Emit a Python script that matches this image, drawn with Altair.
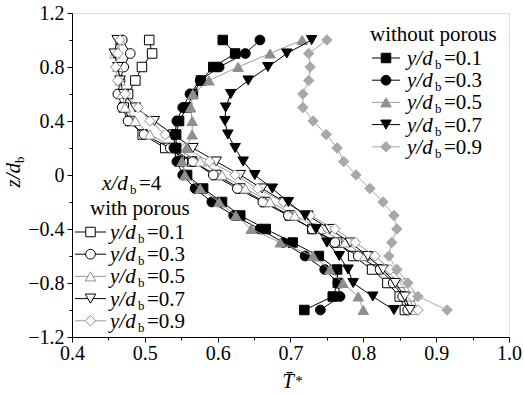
import altair as alt
import pandas as pd

# ---------------- data ----------------
Z = [1.0, 0.9, 0.8, 0.7, 0.6, 0.5, 0.4, 0.3, 0.2, 0.1, 0.0,
     -0.1, -0.2, -0.3, -0.4, -0.5, -0.6, -0.7, -0.8, -0.9, -1.0]

# without porous
NP_01 = [0.607, 0.624, 0.594, 0.577, 0.566, 0.558, 0.547, 0.543, 0.543, 0.548, 0.558,
         0.580, 0.606, 0.631, 0.666, 0.703, 0.739, 0.764, 0.765, 0.758, 0.719]
NP_03 = [0.658, 0.638, 0.602, 0.576, 0.562, 0.552, 0.544, 0.541, 0.540, 0.544, 0.552,
         0.569, 0.592, 0.622, 0.658, 0.690, 0.720, 0.747, 0.765, 0.768, 0.741]
NP_05 = [0.716, 0.672, 0.628, 0.588, 0.566, 0.563, 0.565, 0.565, 0.557, 0.551, 0.555,
         0.576, 0.602, 0.625, 0.646, 0.686, 0.731, 0.754, 0.772, 0.793, 0.800]
NP_07 = [0.729, 0.695, 0.669, 0.642, 0.618, 0.611, 0.610, 0.614, 0.624, 0.635, 0.651,
         0.675, 0.697, 0.720, 0.735, 0.750, 0.767, 0.779, 0.786, 0.813, 0.842]
NP_09 = [0.750, 0.725, 0.727, 0.725, 0.717, 0.717, 0.731, 0.749, 0.764, 0.773, 0.790,
         0.809, 0.827, 0.842, 0.846, 0.839, 0.835, 0.846, 0.861, 0.875, 0.915]

# with porous
P_01 = [0.506, 0.510, 0.496, 0.487, 0.477, 0.471, 0.480, 0.497, 0.528, 0.565, 0.598,
        0.631, 0.665, 0.699, 0.730, 0.764, 0.786, 0.812, 0.833, 0.850, 0.857]
P_03 = [0.469, 0.480, 0.471, 0.466, 0.463, 0.469, 0.477, 0.499, 0.535, 0.566, 0.594,
        0.627, 0.662, 0.697, 0.730, 0.761, 0.793, 0.823, 0.841, 0.854, 0.861]
P_05 = [0.466, 0.459, 0.463, 0.466, 0.469, 0.473, 0.487, 0.507, 0.541, 0.576, 0.606,
        0.638, 0.672, 0.706, 0.741, 0.775, 0.802, 0.830, 0.850, 0.864, 0.868]
P_07 = [0.462, 0.458, 0.463, 0.466, 0.471, 0.487, 0.513, 0.539, 0.566, 0.598, 0.631,
        0.661, 0.692, 0.724, 0.754, 0.782, 0.806, 0.827, 0.844, 0.857, 0.864]
P_09 = [0.466, 0.463, 0.460, 0.463, 0.473, 0.491, 0.507, 0.528, 0.555, 0.589, 0.624,
        0.655, 0.690, 0.727, 0.761, 0.789, 0.816, 0.837, 0.857, 0.867, 0.875]

LABELS = ["0.1", "0.3", "0.5", "0.7", "0.9"]

# ---------------- styles ----------------
FONT = "Liberation Serif"
W, H = 437, 324
PAD_L, PAD_T = 72, 13

BLACK = "#000000"
GRAY = "#8f8f8f"
LGRAY = "#a8a8a8"

# (shape, size, fill, stroke, line colour)
NP_STYLE = [
    ("square", 90, BLACK, BLACK, BLACK),
    ("circle", 95, BLACK, BLACK, BLACK),
    ("triangle-up", 110, GRAY, GRAY, "#9a9a9a"),
    ("triangle-down", 110, BLACK, BLACK, BLACK),
    ("diamond", 110, LGRAY, LGRAY, LGRAY),
]
P_STYLE = [
    ("square", 90, "white", BLACK, BLACK),
    ("circle", 95, "white", BLACK, BLACK),
    ("triangle-up", 110, "white", GRAY, "#9a9a9a"),
    ("triangle-down", 110, "white", BLACK, BLACK),
    ("diamond", 110, "white", GRAY, "#9a9a9a"),
]

xscale = alt.Scale(domain=[0.4, 1.0], nice=False, zero=False)
yscale = alt.Scale(domain=[-1.2, 1.2], nice=False, zero=False)

x_ticks = [round(0.4 + 0.05 * i, 2) for i in range(13)]
y_ticks = [round(-1.2 + 0.2 * i, 2) for i in range(13)]

x_major = "abs(datum.value*10 - round(datum.value*10)) < 0.01"
y_major = "abs(datum.value/0.4 - round(datum.value/0.4)) < 0.01"

x_axis = alt.Axis(
    values=x_ticks, title=None, grid=False,
    labelExpr=f"{x_major} ? format(datum.value, '.1f') : ''",
    tickSize={"condition": {"test": x_major, "value": 5}, "value": 3},
    labelFont=FONT, labelFontSize=20, labelColor="black",
    labelPadding=1, labelFlush=False, labelOverlap=False,
)
y_axis = alt.Axis(
    values=y_ticks, title=None, grid=False,
    labelExpr=f"{y_major} ? replace(datum.value == 0 ? '0' : format(datum.value, '.1f'), '-', '\u2212') : ''",
    tickSize={"condition": {"test": y_major, "value": 5}, "value": 3},
    labelFont=FONT, labelFontSize=20, labelColor="black",
    labelPadding=3, labelFlush=False, labelOverlap=False,
)

layers = []


def series_layers(vals, style):
    shape, size, fill, stroke, lcol = style
    df = pd.DataFrame({"T": vals, "z": Z, "i": list(range(len(Z)))})
    base = alt.Chart(df).encode(
        x=alt.X("T:Q", scale=xscale, axis=x_axis),
        y=alt.Y("z:Q", scale=yscale, axis=y_axis),
    )
    line = base.mark_line(color=lcol, strokeWidth=1).encode(order="i:O")
    pts = base.mark_point(shape=shape, size=size, filled=True, fill=fill,
                          stroke=stroke, strokeWidth=1, opacity=1)
    return [line, pts]


for vals, st in zip([P_01, P_03, P_05, P_07, P_09], P_STYLE):
    layers += series_layers(vals, st)
for vals, st in zip([NP_01, NP_03, NP_05, NP_07, NP_09], NP_STYLE):
    layers += series_layers(vals, st)

one = pd.DataFrame({"k": [0]})


def txt(text, px, py, size=21, italic=False, align="left", angle=0, baseline="alphabetic"):
    kw = dict(text=text, font=FONT, fontSize=size, color="black", align=align,
              baseline=baseline, fontStyle="italic" if italic else "normal")
    if angle:
        kw["angle"] = angle
    return alt.Chart(one).mark_text(**kw).encode(
        x=alt.value(px - PAD_L), y=alt.value(py - PAD_T))


def ratio_label(prefix, value, px, cy, sub_dx, eq_dx):
    base = cy + 7
    return [
        txt(prefix, px, base, italic=True),
        txt("b", px + sub_dx, base + 4, size=13),
        txt("=" + value, px + eq_dx, base),
    ]


def legend_entry(style, px0, px1, cy):
    shape, size, fill, stroke, lcol = style
    rule = alt.Chart(one).mark_rule(color=lcol, strokeWidth=1).encode(
        x=alt.value(px0 - PAD_L), x2=alt.value(px1 - PAD_L), y=alt.value(cy - PAD_T))
    pt = alt.Chart(one).mark_point(shape=shape, size=size, filled=True, fill=fill,
                                   stroke=stroke, strokeWidth=1, opacity=1).encode(
        x=alt.value((px0 + px1) / 2 - PAD_L), y=alt.value(cy - PAD_T))
    return [rule, pt]


# legend: without porous
layers.append(txt("without porous", 370, 41))
for k, (lab, st) in enumerate(zip(LABELS, NP_STYLE)):
    cy = 58 + 22.2 * k
    layers += legend_entry(st, 372, 400, cy)
    layers += ratio_label("y/d", lab, 407, cy, 28, 37)

# legend: with porous
layers += ratio_label("x/d", "4", 102, 183, 28, 37)
layers.append(txt("with porous", 90, 215))
for k, (lab, st) in enumerate(zip(LABELS, P_STYLE)):
    cy = 232 + 22.2 * k
    layers += legend_entry(st, 75, 106, cy)
    layers += ratio_label("y/d", lab, 110, cy, 28, 37)

# axis titles
layers.append(txt("z/d", 20, 163, italic=True, align="right", angle=270))
layers.append(txt("b", 24, 163, size=13, align="left", angle=270))
layers.append(txt("T\u0304", 288, 388, italic=True, align="center"))
layers.append(txt("*", 299, 386, size=15, align="center"))

chart = alt.layer(*layers).properties(
    width=W, height=H,
    autosize=alt.AutoSizeParams(type="none"),
    padding={"left": PAD_L, "top": PAD_T, "right": 524 - PAD_L - W, "bottom": 395 - PAD_T - H},
).configure_view(stroke="black", strokeWidth=1).configure(
    background="white"
).configure_axis(
    labelFont=FONT, labelFontSize=20, labelColor="black",
    domainColor="black", tickColor="black", domainWidth=1, tickWidth=1,
)

chart.save("out.html", embed_options={"renderer": "svg", "actions": False})
